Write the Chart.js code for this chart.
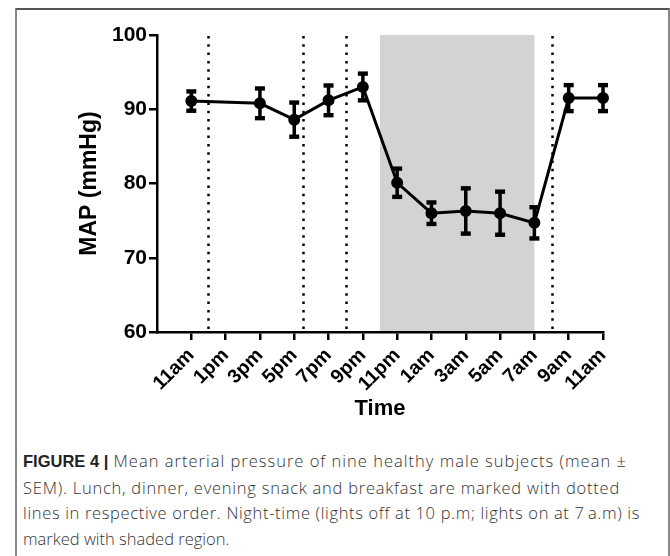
<!DOCTYPE html>
<html>
<head>
<meta charset="utf-8">
<script src="https://cdn.jsdelivr.net/npm/chart.js@4"></script>
<style>
  html, body { margin: 0; padding: 0; background: #fff; }
  body { width: 670px; height: 556px; position: relative; overflow: hidden; }
  #frame { position: absolute; left: 15px; top: 8px; width: 655px; height: 600px;
           border: 2px solid #888; border-top-color: #555; box-sizing: border-box; }
  #c { position: absolute; left: 0; top: 0; }
  #caption { position: absolute; left: 23px; top: 448px; width: 640px;
             font-family: "Open Sans", "Liberation Sans", sans-serif; font-weight: 300;
             font-size: 16.5px; line-height: 25.5px; color: #333; white-space: nowrap; }
  #caption div { display: block; }
  #caption b { font-family: "Liberation Sans", sans-serif; font-weight: 700; color: #222; letter-spacing: 0; }
</style>
</head>
<body>
<div id="frame"></div>
<canvas id="c" width="670" height="422"></canvas>
<div id="caption">
  <div data-w="614"><b>FIGURE 4 |</b> Mean arterial pressure of nine healthy male subjects (mean ±</div>
  <div data-w="597">SEM). Lunch, dinner, evening snack and breakfast are marked with dotted</div>
  <div data-w="617">lines in respective order. Night-time (lights off at 10 p.m; lights on at 7&#8201;a.m) is</div>
  <div>marked with shaded region.</div>
</div>
<script>
// Tick labels (every 2 hours starting at 11am)
const timeLabels = ['11am','1pm','3pm','5pm','7pm','9pm','11pm','1am','3am','5am','7am','9am','11am'];
// Hours since 11am of each measurement
const hours = [0, 4, 6, 8, 10, 12, 14, 16, 18, 20, 22, 24];
// Mean arterial pressure (mmHg)
const mapMean = [91.1, 90.8, 88.6, 91.2, 93.0, 80.1, 76.0, 76.3, 76.0, 74.7, 91.5, 91.5];
// SEM
const mapSem = [1.3, 2.0, 2.3, 2.0, 1.8, 1.9, 1.45, 3.05, 2.9, 2.1, 1.75, 1.75];
// Meals (hours since 11am): lunch 12pm, dinner 5:30pm, evening snack 8pm, breakfast 8am
const mealHours = [1, 6.5, 9, 21];
// Night-time: lights off 10pm, lights on 7am
const nightStart = 11;
const nightEnd = 20;

const points = hours.map((h, i) => ({ x: h, y: mapMean[i] }));

// fit caption line widths to the reference by letter spacing
document.querySelectorAll('#caption div[data-w]').forEach(d => {
  const target = +d.dataset.w;
  const span = document.createElement('span');
  span.innerHTML = d.innerHTML; d.innerHTML = ''; d.appendChild(span);
  const w = span.getBoundingClientRect().width;
  const n = span.textContent.length;
  span.style.letterSpacing = ((target - w) / n) + 'px';
});

const backdrop = {
  id: 'backdrop',
  beforeDraw(chart) {
    const { ctx, scales: { x, y } } = chart;
    const top = y.getPixelForValue(100), bot = y.getPixelForValue(60);
    ctx.save();
    ctx.fillStyle = '#d3d3d3';
    const x0 = x.getPixelForValue(nightStart), x1 = x.getPixelForValue(nightEnd);
    ctx.fillRect(x0, top, x1 - x0, bot - top);
    ctx.strokeStyle = '#000';
    ctx.lineWidth = 2.5;
    ctx.setLineDash([2.5, 5.8]);
    mealHours.forEach(h => {
      const px = Math.round(x.getPixelForValue(h)) + 0.5;
      ctx.beginPath();
      ctx.moveTo(px, top + 1);
      ctx.lineTo(px, bot);
      ctx.stroke();
    });
    ctx.restore();
  }
};

const errorBars = {
  id: 'errorBars',
  beforeDatasetsDraw(chart) {
    const { ctx, scales: { x, y } } = chart;
    ctx.save();
    ctx.strokeStyle = '#000';
    ctx.fillStyle = '#000';
    ctx.lineWidth = 3.5;
    hours.forEach((h, i) => {
      const px = x.getPixelForValue(h);
      const yt = y.getPixelForValue(mapMean[i] + mapSem[i]);
      const yb = y.getPixelForValue(mapMean[i] - mapSem[i]);
      ctx.beginPath();
      ctx.moveTo(px, yt);
      ctx.lineTo(px, yb);
      ctx.stroke();
      ctx.fillRect(px - 5, yt - 2.2, 10, 4.4);
      ctx.fillRect(px - 5, yb - 2.2, 10, 4.4);
    });
    ctx.restore();
  }
};

new Chart(document.getElementById('c'), {
  type: 'line',
  data: {
    datasets: [{
      data: points,
      borderColor: '#000',
      backgroundColor: '#000',
      borderWidth: 3,
      pointRadius: 4.5,
      pointHoverRadius: 4.5,
      tension: 0,
      clip: false
    }]
  },
  plugins: [backdrop, errorBars],
  options: {
    responsive: false,
    animation: false,
    devicePixelRatio: 1,
    layout: { padding: { left: 76, right: 67, top: 35, bottom: 0 } },
    plugins: { legend: { display: false }, tooltip: { enabled: false } },
    scales: {
      x: {
        type: 'linear',
        min: -2, max: 24,
        afterBuildTicks: s => { s.ticks = s.ticks.filter(t => t.value >= 0); },
        afterFit: s => { s.height = 90; },
        ticks: {
          stepSize: 2, autoSkip: false, maxRotation: 45, minRotation: 45,
          color: '#000', padding: 4,
          font: { family: 'Liberation Sans', weight: 'bold', size: 19.5 },
          callback: v => timeLabels[v / 2]
        },
        grid: { drawOnChartArea: false, drawTicks: true, tickLength: 8, lineWidth: 2.5, color: '#000' },
        border: { display: true, width: 2.5, color: '#000' },
        title: { display: true, text: 'Time', color: '#000', padding: 0,
                 font: { family: 'Liberation Sans', weight: 'bold', size: 22 } }
      },
      y: {
        min: 60, max: 100,
        afterFit: s => { s.width = 81; },
        ticks: { stepSize: 10, color: '#000', padding: 2,
                 font: { family: 'Liberation Sans', weight: 'bold', size: 21 } },
        grid: { drawOnChartArea: false, drawTicks: true, tickLength: 8, lineWidth: 2.5, color: '#000' },
        border: { display: true, width: 2.5, color: '#000' },
        title: { display: true, text: 'MAP (mmHg)', color: '#000', padding: 0,
                 font: { family: 'Liberation Sans', weight: 'bold', size: 23 } }
      }
    }
  }
});
</script>
</body>
</html>
